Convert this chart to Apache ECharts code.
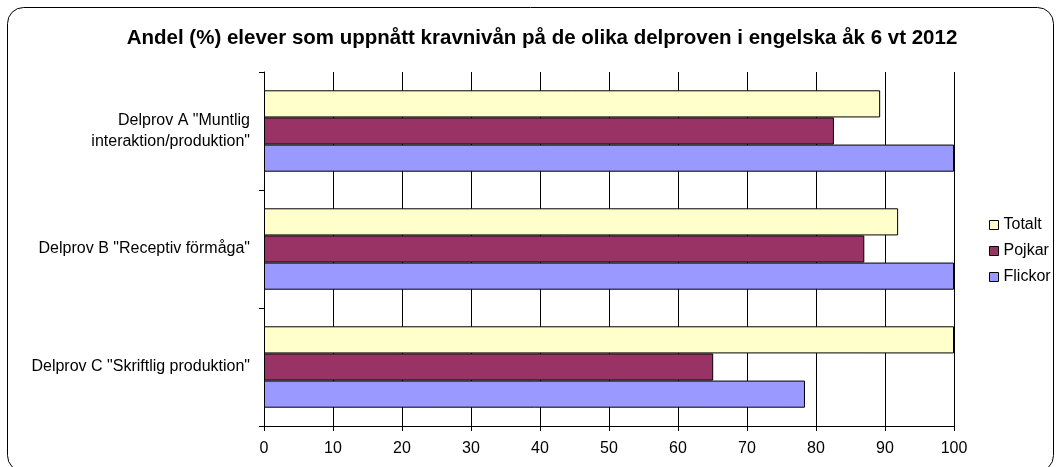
<!DOCTYPE html>
<html><head><meta charset="utf-8">
<script src="https://cdn.jsdelivr.net/npm/echarts@6/dist/echarts.min.js"></script>
<style>html,body{margin:0;padding:0;background:#fff}#c{width:1057px;height:467px}</style>
</head><body><div id="c"></div>
<script>
const categories = ['Delprov A "Muntlig\ninteraktion/produktion"', 'Delprov B "Receptiv förmåga"', 'Delprov C "Skriftlig produktion"'];
const seriesNames = ['Totalt', 'Pojkar', 'Flickor'];
const totalt = [89.3, 91.9, 100];
const pojkar = [82.6, 87.0, 65.1];
const flickor = [100, 100, 78.4];
const colors = ['#FFFFCC', '#993366', '#9999FF'];
const values = [totalt, pojkar, flickor];

const chart = echarts.init(document.getElementById('c'));
const font = 'Liberation Sans, Arial, sans-serif';
chart.setOption({
  animation: false,
  textStyle: {fontFamily: font},
  title: {text: 'Andel (%) elever som uppnått kravnivån på de olika delproven i engelska åk 6 vt 2012',
    left: 537, textAlign: 'center', top: 23,
    textStyle: {fontFamily: font, fontSize: 20.5, fontWeight: 'bold', color: '#000'}},
  graphic: [{type: 'rect', shape: {x: 7.5, y: 7.5, width: 1046, height: 464, r: 16},
    style: {fill: 'none', stroke: '#000', lineWidth: 1}, z: -1}],
  legend: {orient: 'vertical', left: 989, top: 217, padding: 0, itemWidth: 9, itemHeight: 9, itemGap: 10,
    textStyle: {fontFamily: font, fontSize: 16, color: '#000'},
    data: seriesNames.map(n => ({name: n, icon: 'rect', itemStyle: {borderColor: '#000', borderWidth: 1}}))},
  grid: {left: 264, right: 103, top: 72, bottom: 41},
  xAxis: {type: 'value', min: 0, max: 100, interval: 10,
    axisLine: {show: true, lineStyle: {color: '#000'}},
    axisTick: {show: true, inside: false, length: 5, lineStyle: {color: '#000'}},
    axisLabel: {fontFamily: font, fontSize: 16, color: '#000', margin: 15},
    splitLine: {show: true, lineStyle: {color: '#000', width: 1}}},
  yAxis: {type: 'category', data: categories, inverse: true,
    axisLine: {show: true, lineStyle: {color: '#000'}},
    axisTick: {show: true, length: 5, lineStyle: {color: '#000'}},
    axisLabel: {fontFamily: font, fontSize: 16, color: '#000', margin: 14, lineHeight: 21, align: 'right'}},
  series: seriesNames.map((n, i) => ({
    name: n, type: 'bar', data: values[i], barGap: '0%', barCategoryGap: '31%',
    itemStyle: {color: colors[i], borderColor: '#000', borderWidth: 1}
  }))
});
</script></body></html>
